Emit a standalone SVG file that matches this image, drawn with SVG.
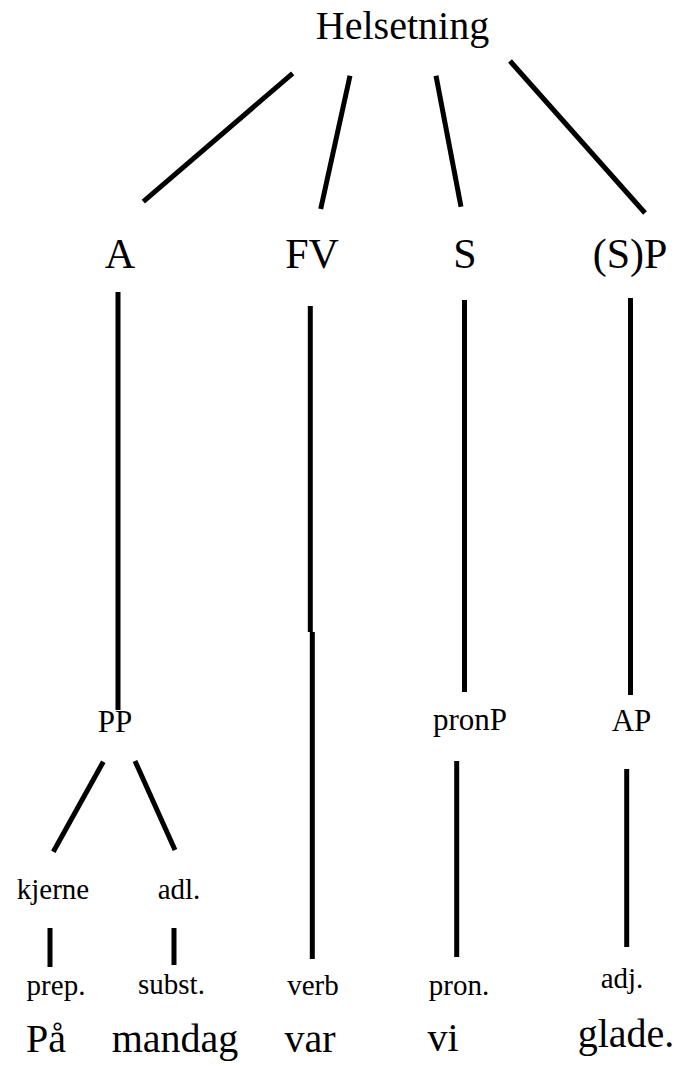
<svg xmlns="http://www.w3.org/2000/svg" width="679" height="1066" viewBox="0 0 679 1066">
<style>
text{font-family:'Liberation Serif',Tinos,'Times New Roman','DejaVu Serif',serif;fill:#000;text-anchor:middle}
.t0{font-size:40px}
.t1{font-size:42px}
.t2{font-size:31px}
.t3{font-size:29px}
.w{font-size:40px}
#edges line{stroke:#000;stroke-width:5;stroke-linecap:butt}
</style>
<rect width="679" height="1066" fill="#fff"/>
<g id="edges">
<line x1="292.7" y1="73.3" x2="143.3" y2="201.7"/>
<line x1="350" y1="75.7" x2="320.7" y2="209"/>
<line x1="436" y1="75.7" x2="461" y2="206.7"/>
<line x1="510" y1="61" x2="645" y2="213"/>
<line x1="118" y1="292" x2="118" y2="710"/>
<line x1="310.3" y1="306" x2="310.3" y2="632"/>
<line x1="312.3" y1="632" x2="312.3" y2="959"/>
<line x1="464.5" y1="300" x2="464.5" y2="692"/>
<line x1="630.5" y1="298" x2="630.5" y2="695"/>
<line x1="103.3" y1="761.7" x2="53.3" y2="851.7"/>
<line x1="135" y1="761" x2="175" y2="850"/>
<line x1="50" y1="928" x2="50" y2="967"/>
<line x1="174" y1="928" x2="174" y2="965"/>
<line x1="456.7" y1="761" x2="456.7" y2="957"/>
<line x1="626.7" y1="769" x2="626.7" y2="947"/>
</g>
<g font-family="Liberation Serif, serif">
<g id="n-helsetning"><text class="t0" x="402.5" y="39">Helsetning</text></g>
<g id="n-A"><text class="t1" x="120" y="268">A</text></g>
<g id="n-FV"><text class="t1" x="312" y="268">FV</text></g>
<g id="n-S"><text class="t1" x="465" y="268">S</text></g>
<g id="n-SP"><text class="t1" x="630" y="268">(S)P</text></g>
<g id="n-PP"><text class="t2" x="115" y="732">PP</text></g>
<g id="n-pronP"><text class="t2" x="470" y="730">pronP</text></g>
<g id="n-AP"><text class="t2" x="631.5" y="731">AP</text></g>
<g id="n-kjerne"><text class="t3" x="53" y="899">kjerne</text></g>
<g id="n-adl"><text class="t3" x="179" y="899">adl.</text></g>
<g id="n-prep"><text class="t3" x="56" y="995">prep.</text></g>
<g id="n-subst"><text class="t3" x="171.5" y="994">subst.</text></g>
<g id="n-verb"><text class="t3" x="313" y="995">verb</text></g>
<g id="n-pron"><text class="t3" x="459" y="995">pron.</text></g>
<g id="n-adj"><text class="t3" x="622" y="988">adj.</text></g>
<g id="w-paa"><text class="w" x="46" y="1052">På</text></g>
<g id="w-mandag"><text class="w" x="175" y="1052">mandag</text></g>
<g id="w-var"><text class="w" x="310" y="1052">var</text></g>
<g id="w-vi"><text class="w" x="443" y="1051">vi</text></g>
<g id="w-glade"><text class="w" x="626" y="1047">glade.</text></g>
</g>
</svg>
